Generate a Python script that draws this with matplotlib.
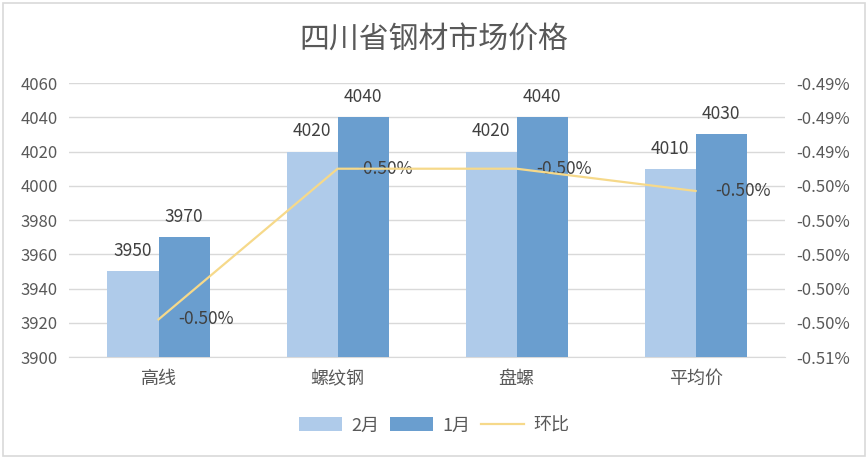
import matplotlib
matplotlib.use('Agg')
import matplotlib.pyplot as plt
import numpy as np
from matplotlib.ticker import FuncFormatter
from matplotlib.patches import Rectangle

plt.rcParams['font.family'] = ['Noto Sans CJK SC', 'DejaVu Sans']

categories = ['高线', '螺纹钢', '盘螺', '平均价']
feb = [3950, 4020, 4020, 4010]
jan = [3970, 4040, 4040, 4030]
mom = [-0.5038, -0.4950, -0.4950, -0.4963]  # percent
mom_labels = ['-0.50%', '-0.50%', '-0.50%', '-0.50%']


def main():
    fig = plt.figure(figsize=(8.68, 4.59), dpi=100)
    ax = fig.add_axes([0.0795, 0.222, 0.825, 0.597])
    ax2 = ax.twinx()

    x = np.arange(len(categories))
    w = 0.285
    c_light = '#AFCBEA'
    c_dark = '#6A9ECF'
    c_line = '#F6D98A'
    txt = '#595959'

    b1 = ax.bar(x - w / 2, feb, w, color=c_light, label='2月', zorder=3)
    b2 = ax.bar(x + w / 2, jan, w, color=c_dark, label='1月', zorder=3)
    for bars, vals in ((b1, feb), (b2, jan)):
        for r, v in zip(bars, vals):
            ax.annotate(str(v), (r.get_x() + r.get_width() / 2, v), xytext=(0, 8),
                        textcoords='offset points', ha='center', va='bottom',
                        fontsize=12.5, color='#404040')

    ax.set_ylim(3900, 4060)
    ax.set_yticks(np.arange(3900, 4061, 20))
    ax.set_xlim(-0.5, len(categories) - 0.5)
    ax.set_xticks(x)
    ax.set_xticklabels(categories)
    ax.grid(axis='y', color='#D9D9D9', linewidth=1, zorder=0)
    for s in ('top', 'right', 'left'):
        ax.spines[s].set_visible(False)
    ax.spines['bottom'].set_color('#D9D9D9')
    ax.tick_params(axis='both', length=0, labelsize=12, colors=txt, pad=8)
    ax.tick_params(axis='x', labelsize=13, pad=9)

    ln, = ax2.plot(x, mom, color=c_line, linewidth=1.6, label='环比', zorder=4)
    for xi, v, lab in zip(x, mom, mom_labels):
        ax2.annotate(lab, (xi, v), xytext=(14, 0), textcoords='offset points',
                     ha='left', va='center', fontsize=12.5, color='#404040')
    ax2.set_ylim(-0.506, -0.490)
    ax2.set_yticks(np.arange(-0.506, -0.4899, 0.002))
    ax2.yaxis.set_major_formatter(FuncFormatter(lambda v, p: f'{v:.2f}%'))
    for s in ax2.spines.values():
        s.set_visible(False)
    ax2.tick_params(axis='y', length=0, labelsize=12, colors=txt, pad=8)

    ax.set_zorder(1)
    ax2.set_zorder(2)
    ax2.patch.set_visible(False)

    fig.text(0.5, 0.915, '四川省钢材市场价格', ha='center', va='center',
             fontsize=21.5, color=txt)

    fig.legend(handles=[b1, b2, ln], loc='center', bbox_to_anchor=(0.5, 0.073),
               ncol=3, frameon=False, fontsize=13, labelcolor=txt,
               handlelength=2.4, handleheight=0.8, columnspacing=0.6, handletextpad=0.5)

    fig.patches.append(Rectangle((0.004, 0.006), 0.992, 0.988, transform=fig.transFigure,
                                 fill=False, edgecolor='#D9D9D9', linewidth=1.2))

    fig.savefig('out.png', dpi=100)


if __name__ == "__main__":
    main()
